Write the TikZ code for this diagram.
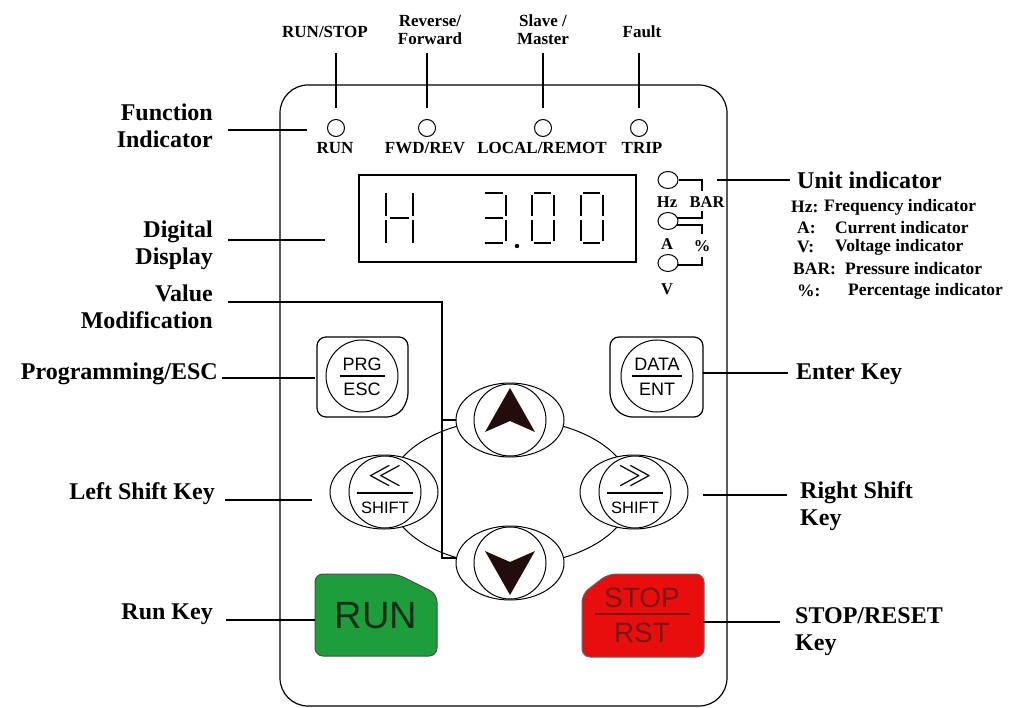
\documentclass[tikz,border=0pt]{standalone}
\usepackage{fontspec}
\setmainfont{Liberation Serif}
\setsansfont{Liberation Sans}
\usepackage{graphicx}
\usepackage{tikz}
\usetikzlibrary{shapes.geometric}
\definecolor{keygreen}{RGB}{30, 158, 58}
\definecolor{keyred}{RGB}{232, 14, 14}
\definecolor{runtext}{RGB}{20, 45, 25}
\definecolor{stoptext}{RGB}{125, 20, 20}
\definecolor{arrowfill}{RGB}{35, 12, 12}
\tikzset{
    lead/.style={line width=1.1pt},
    outline/.style={line width=1.2pt},
    segment/.style={line width=1.4pt},
    biglabel/.style={inner ysep=0pt, font=\bfseries\fontsize{24}{27}\selectfont},
    leftlabel/.style={biglabel, anchor=east, align=right, inner xsep=15pt},
    rightlabel/.style={biglabel, anchor=west, align=left, inner xsep=8pt},
    toplabel/.style={inner sep=0pt, align=center, font=\bfseries\fontsize{17}{18}\selectfont},
    ledlabel/.style={inner sep=0pt, font=\bfseries\fontsize{17}{18}\selectfont},
    unitlabel/.style={inner sep=0pt, font=\bfseries\fontsize{16.5}{17}\selectfont},
    listlabel/.style={inner sep=0pt, anchor=west, font=\bfseries\fontsize{17.5}{18}\selectfont},
    led/.style={draw, circle, line width=1pt, minimum size=17pt, inner sep=0pt},
    unitled/.style={draw, ellipse, line width=1pt, minimum width=20pt, minimum height=17pt, inner sep=0pt},
    keyouter/.style={draw, ellipse, fill=white, line width=1pt, minimum width=108pt, minimum height=74pt, inner sep=0pt},
    keyinner/.style={draw, circle, line width=1pt, minimum size=72pt, inner sep=0pt},
    keytext/.style={inner sep=0pt, font=\sffamily\fontsize{18}{19}\selectfont},
    shifttext/.style={inner sep=0pt, font=\sffamily\fontsize{16.5}{17}\selectfont},
    shiftsign/.style={inner sep=0pt, font=\fontsize{24}{24}\selectfont},
    bigkeytext/.style={inner sep=0pt, font=\sffamily\fontsize{28}{29}\selectfont},
}

\begin{document}
\begin{tikzpicture}[x=1pt, y=-1pt]
    \useasboundingbox (0,0) rectangle (1014,708);
    % panel frame
    \draw[outline, rounded corners=28pt] (280,85) rectangle (727,706);

    % function indicator lamps
    \node[led] (ledrun)   at (336,128) {};
    \node[led] (ledfwd)   at (427,128) {};
    \node[led] (ledlocal) at (543,128) {};
    \node[led] (ledtrip)  at (639,128) {};
    \node[ledlabel] (txtrun)   at (335,148) {RUN};
    \node[ledlabel] (txtfwd)   at (425,148) {FWD/REV};
    \node[ledlabel] (txtlocal) at (542,148) {LOCAL/REMOT};
    \node[ledlabel] (txttrip)  at (642,148) {TRIP};

    \node[toplabel] (lblrunstop) at (325,32) {RUN/STOP};
    \node[toplabel] (lblrev)     at (430,30) {Reverse/\\Forward};
    \node[toplabel] (lblslave)   at (543,30) {Slave /\\Master};
    \node[toplabel] (lblfault)   at (642,32) {Fault};
    \coordinate (runtop)   at (336,53);
    \coordinate (fwdtop)   at (427,53);
    \coordinate (localtop) at (543,53);
    \coordinate (triptop)  at (639,53);
    \draw[lead, shorten <=11pt] (ledrun.north)   -- (runtop);
    \draw[lead, shorten <=11pt] (ledfwd.north)   -- (fwdtop);
    \draw[lead, shorten <=11pt] (ledlocal.north) -- (localtop);
    \draw[lead, shorten <=11pt] (ledtrip.north)  -- (triptop);

    % digital display
    \node[draw, outline, minimum width=277pt, minimum height=87pt, inner sep=0pt] (display) at (497.5,218.5) {};
    \draw[segment] (386,193) -- (386,216) (386,220) -- (386,243) (413,193) -- (413,216) (413,220) -- (413,243) (390,218) -- (409,218);
    \draw[segment] (485,193) -- (503,193) (485,218) -- (503,218) (485,243) -- (503,243) (506,195) -- (506,216) (506,220) -- (506,241);
    \fill (517,246) circle (2.2);
    \draw[segment] (534,193) -- (551,193) (534,243) -- (551,243) (532,195) -- (532,216) (532,220) -- (532,241) (554,195) -- (554,216) (554,220) -- (554,241);
    \draw[segment] (583,193) -- (600,193) (583,243) -- (600,243) (581,195) -- (581,216) (581,220) -- (581,241) (603,195) -- (603,216) (603,220) -- (603,241);

    % unit indicator lamps
    \node[unitled] (ledhz) at (668,180) {};
    \node[unitled] (leda)  at (668,221) {};
    \node[unitled] (ledv)  at (668,263) {};
    \node[unitlabel] (txthz)  at (667,202) {Hz};
    \node[unitlabel] (txtbar) at (707,202) {BAR};
    \node[unitlabel] (txta)   at (667,244) {A};
    \node[unitlabel] (txtpct) at (702,246) {\%};
    \node[unitlabel] (txtv)   at (667,289) {V};
    \draw[lead] (ledhz.east) -- (702,180) -- (702,191);
    \draw[lead] (702,211) -- (702,218) -- (677,218);
    \draw[lead] (677,225) -- (702,225) -- (702,234);
    \draw[lead] (702,257) -- (702,265) -- (677,265);

    % programming and enter keys
    \draw[outline, rounded corners=9pt] (317,337) -- (408,337) -- (408,402) -- (396,417) -- (317,417) -- cycle;
    \node[keyinner] (prgkey) at (362,376) {};
    \node[keytext] (prgtxt) at (362,364) {PRG};
    \node[keytext] (esctxt) at (362,389) {ESC};
    \draw[lead] (340,376) -- (385,376);
    \draw[outline, rounded corners=9pt] (610,337) -- (703,337) -- (703,417) -- (623,417) -- (610,402) -- cycle;
    \node[keyinner] (datakey) at (657,376) {};
    \node[keytext] (datatxt) at (657,364) {DATA};
    \node[keytext] (enttxt)  at (657,389) {ENT};
    \draw[lead] (632,376) -- (682,376);

    % arrow and shift keys
    \node[draw, ellipse, line width=1pt, minimum width=244pt, minimum height=146pt, inner sep=0pt] (ring) at (510,492) {};
    \node[keyouter] (upkey)    at (510,420) {};
    \node[keyinner] (upin)     at (510,420) {};
    \node[keyouter] (downkey)  at (510,563) {};
    \node[keyinner] (downin)   at (510,563) {};
    \node[keyouter] (leftkey)  at (384,492) {};
    \node[keyinner] (leftin)   at (385,492) {};
    \node[keyouter] (rightkey) at (634,492) {};
    \node[keyinner] (rightin)  at (635,492) {};
    \fill[arrowfill] (510,388) -- (535,432) -- (510,421) -- (485,432) -- cycle;
    \fill[arrowfill] (510,595) -- (535,551) -- (510,562) -- (485,551) -- cycle;
    \node[shiftsign] (lltxt) at (385,476) {\scalebox{1.35}{$\ll$}};
    \draw[lead] (357,493) -- (413,493);
    \node[shifttext] (lshift) at (385,508) {SHIFT};
    \node[shiftsign] (ggtxt) at (635,476) {\scalebox{1.35}{$\gg$}};
    \draw[lead] (607,493) -- (663,493);
    \node[shifttext] (rshift) at (635,508) {SHIFT};

    % run and stop keys
    \filldraw[draw=black!70, fill=keygreen, line width=1pt, rounded corners=8pt] (315,574) -- (397,574) -- (437,594) -- (437,656) -- (315,656) -- cycle;
    \node[inner sep=0pt, text=runtext, font=\sffamily\fontsize{38}{38}\selectfont] (runtxt) at (376,616) {RUN};
    \filldraw[draw=black!60, fill=keyred, line width=1pt, rounded corners=8pt] (582,594) -- (608,574) -- (704,574) -- (704,657) -- (582,657) -- cycle;
    \node[bigkeytext, text=stoptext] (stoptxt) at (642,598) {STOP};
    \draw[line width=1.4pt, stoptext] (595,614) -- (690,614);
    \node[bigkeytext, text=stoptext] (rsttxt) at (642,633) {RST};

    % labels on the left
    \node[leftlabel] (lblfunc) at (228,126) {Function\\Indicator};
    \coordinate (funcend) at (307,130);
    \draw[lead] (lblfunc.east |- funcend) -- (funcend);

    \node[leftlabel] (lbldisp) at (228,245) {Digital\\Display};
    \coordinate (dispend) at (325,240);
    \draw[lead] (lbldisp.east |- dispend) -- (dispend);

    \node[leftlabel] (lblval) at (228,307) {Value\\Modification};
    \coordinate (valtop) at (442,302);
    \coordinate (valbot) at (442,558);
    \draw[lead] (lblval.east |- valtop) -- (valtop) -- (valbot) -- (valbot -| downkey.west);
    \draw[lead] (valtop |- upkey.west) -- (upkey.west);

    \node[leftlabel, inner xsep=4pt] (lblprg) at (222,374) {Programming/ESC};
    \coordinate (prgend) at (315,378);
    \draw[lead] (lblprg.east |- prgend) -- (prgend);

    \node[leftlabel, inner xsep=10pt] (lblleft) at (225,494) {Left Shift Key};
    \coordinate (leftend) at (312,500);
    \draw[lead] (lblleft.east |- leftend) -- (leftend);

    \node[leftlabel, inner xsep=13pt] (lblrun) at (226,614) {Run Key};
    \coordinate (runkeyend) at (315,620);
    \draw[lead] (lblrun.east |- runkeyend) -- (runkeyend);

    % labels on the right
    \node[rightlabel, inner xsep=7pt] (lblunit) at (790,180) {Unit indicator};
    \coordinate (unitend) at (717,180);
    \draw[lead] (unitend) -- (unitend -| lblunit.west);
    \node[listlabel] (keyhz)   at (791,207) {Hz:};
    \node[listlabel] (deschz)  at (824,207) {Frequency indicator};
    \node[listlabel] (keya)    at (797,228) {A:};
    \node[listlabel] (desca)   at (835,228) {Current indicator};
    \node[listlabel] (keyv)    at (797,247) {V:};
    \node[listlabel] (descv)   at (835,247) {Voltage indicator};
    \node[listlabel] (keybar)  at (793,269) {BAR:};
    \node[listlabel] (descbar) at (845,269) {Pressure indicator};
    \node[listlabel] (keypct)  at (797,291) {\%:};
    \node[listlabel] (descpct) at (848,291) {Percentage indicator};

    \node[rightlabel] (lblenter) at (788,374) {Enter Key};
    \coordinate (enterend) at (703,373);
    \draw[lead] (enterend) -- (enterend -| lblenter.west);

    \node[rightlabel, inner xsep=13pt] (lblright) at (787,506) {Right Shift\\Key};
    \coordinate (rightend) at (703,495);
    \draw[lead] (rightend) -- (rightend -| lblright.west);

    \node[rightlabel, inner xsep=15pt] (lblstop) at (780,632) {STOP/RESET\\Key};
    \coordinate (stopend) at (703,622);
    \draw[lead] (stopend) -- (stopend -| lblstop.west);
\end{tikzpicture}
\end{document}
